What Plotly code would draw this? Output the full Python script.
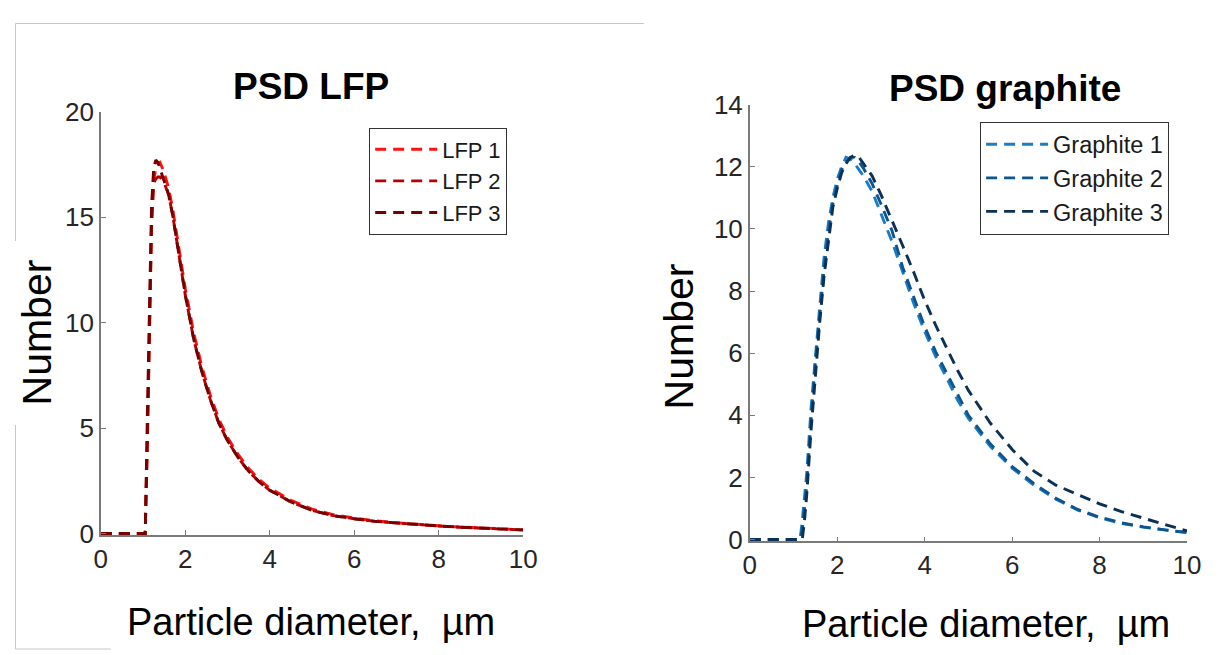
import plotly.graph_objects as go

# ---------------- data ----------------
lfp_x = [0, 0.5, 0.9, 1.0, 1.05, 1.1, 1.15, 1.2, 1.25, 1.3, 1.35, 1.4, 1.5, 1.6, 1.7, 1.8,
         1.9, 2.0, 2.2, 2.4, 2.6, 2.8, 3.0, 3.25, 3.5, 3.75, 4.0, 4.5, 5.0, 5.5, 6.0, 6.5,
         7.0, 7.5, 8.0, 8.5, 9.0, 9.5, 10.0]
lfp1 = [0, 0, 0, 0, 0, 4.5, 10.5, 14.8, 16.7, 17.3, 17.55, 17.6, 17.1, 16.4, 15.4, 14.2,
        12.8, 11.6, 9.5, 7.85, 6.5, 5.4, 4.55, 3.75, 3.08, 2.56, 2.15, 1.58, 1.16, 0.9, 0.73, 0.6,
        0.51, 0.43, 0.37, 0.31, 0.26, 0.22, 0.18]
lfp2 = [0, 0, 0, 0, 0, 4.0, 10.0, 14.5, 16.6, 16.8, 16.9, 16.9, 16.6, 16.1, 15.1, 13.9,
        12.5, 11.3, 9.2, 7.6, 6.3, 5.2, 4.4, 3.6, 2.95, 2.45, 2.05, 1.5, 1.1, 0.85, 0.7, 0.58,
        0.5, 0.42, 0.36, 0.3, 0.25, 0.21, 0.17]
lfp3 = [0, 0, 0, 0, 0, 5.5, 11.5, 15.5, 17.3, 17.7, 17.6, 17.3, 16.7, 16.1, 15.1, 13.9,
        12.5, 11.3, 9.2, 7.6, 6.3, 5.2, 4.4, 3.6, 2.95, 2.45, 2.05, 1.5, 1.1, 0.85, 0.7, 0.58,
        0.5, 0.42, 0.36, 0.3, 0.25, 0.21, 0.17]

gr_x = [0, 0.5, 1.0, 1.15, 1.2, 1.25, 1.3, 1.4, 1.5, 1.6, 1.7, 1.8, 1.9, 2.0, 2.1, 2.2,
        2.3, 2.4, 2.5, 2.6, 2.8, 3.0, 3.25, 3.5, 3.75, 4.0, 4.25, 4.5, 4.75, 5.0, 5.5, 6.0,
        6.5, 7.0, 7.5, 8.0, 8.5, 9.0, 9.5, 10.0]
gr1 = [0, 0, 0, 0, 0.6, 1.3, 2.1, 4.2, 6.0, 7.5, 9.1, 10.2, 11.0, 11.6, 12.0, 12.3,
       12.25, 12.1, 11.9, 11.7, 11.2, 10.5, 9.6, 8.6, 7.6, 6.7, 5.9, 5.2, 4.5, 3.9, 3.0, 2.3,
       1.75, 1.3, 0.95, 0.7, 0.52, 0.4, 0.31, 0.22]
gr2 = [0, 0, 0, 0, 0.3, 0.9, 1.7, 3.8, 5.7, 7.2, 8.7, 9.9, 10.8, 11.4, 11.9, 12.15,
       12.3, 12.3, 12.15, 11.95, 11.45, 10.8, 9.95, 8.75, 7.8, 6.85, 6.05, 5.35, 4.65, 4.0, 3.08, 2.35,
       1.8, 1.33, 0.97, 0.72, 0.54, 0.41, 0.31, 0.23]
gr3 = [0, 0, 0, 0, 0, 0.6, 1.4, 3.5, 5.4, 7.0, 8.5, 9.7, 10.7, 11.3, 11.8, 12.1,
       12.3, 12.37, 12.3, 12.1, 11.7, 11.1, 10.3, 9.45, 8.6, 7.7, 6.9, 6.15, 5.45, 4.8, 3.75, 2.9,
       2.2, 1.75, 1.45, 1.15, 0.9, 0.68, 0.48, 0.28]

lfp_names = ["LFP 1", "LFP 2", "LFP 3"]
gr_names = ["Graphite 1", "Graphite 2", "Graphite 3"]
x_ticks = [0, 2, 4, 6, 8, 10]
lfp_y_ticks = [0, 5, 10, 15, 20]
gr_y_ticks = [0, 2, 4, 6, 8, 10, 12, 14]

lfp_colors = ["#ff1111", "#b80000", "#760000"]
gr_colors = ["#1a7cc4", "#0d5490", "#0b3157"]

W, H = 1231, 655
# the figure appears in the photograph at offset (14, 22) with size 1212 x 630
OX, OY, SW, SH = 14.0, 22.0, 1212.0, 630.0


def fx(X):
    return (X - OX) / SW


def fy(Y):
    return 1 - (Y - OY) / SH


fig = go.Figure()
dash = "11px,7px"
for name, ys, c in zip(lfp_names, [lfp1, lfp2, lfp3], lfp_colors):
    fig.add_trace(go.Scatter(x=lfp_x, y=ys, name=name, mode="lines",
                             line=dict(color=c, width=2.9, dash=dash),
                             xaxis="x", yaxis="y", legend="legend"))
for name, ys, c in zip(gr_names, [gr1, gr2, gr3], gr_colors):
    fig.add_trace(go.Scatter(x=gr_x, y=ys, name=name, mode="lines",
                             line=dict(color=c, width=2.9, dash=dash),
                             xaxis="x2", yaxis="y2", legend="legend2"))

FONT = "Liberation Sans, Arial, sans-serif"
tickfont = dict(family=FONT, size=26, color="#262626")
axcommon = dict(showgrid=False, zeroline=False, showline=True, linecolor="#7a7a7a",
                linewidth=1.5, ticks="inside", ticklen=5, tickcolor="#7a7a7a",
                tickwidth=1, tickfont=tickfont, mirror=False)

fig.update_layout(
    width=W, height=H,
    margin=dict(l=0, r=0, t=0, b=0),
    paper_bgcolor="white", plot_bgcolor="white",
    showlegend=True,
    xaxis=dict(domain=[fx(100), fx(523)], range=[0, 10], tickvals=x_ticks,
               anchor="y", **axcommon),
    yaxis=dict(domain=[fy(536.7), fy(111)], range=[-0.08, 20], tickvals=lfp_y_ticks,
               anchor="x", **axcommon),
    xaxis2=dict(domain=[fx(750), fx(1188)], range=[0, 10], tickvals=x_ticks,
                anchor="y2", **axcommon),
    yaxis2=dict(domain=[fy(542.9), fy(104)], range=[-0.06, 14], tickvals=gr_y_ticks,
                anchor="x2", **axcommon),
    legend=dict(x=fx(507), y=fy(127), xanchor="right", yanchor="top",
                bgcolor="white", bordercolor="#333333", borderwidth=1,
                font=dict(family=FONT, size=22, color="#1a1a1a"), itemwidth=62,
                tracegroupgap=0),
    legend2=dict(x=fx(1170), y=fy(121), xanchor="right", yanchor="top",
                 bgcolor="white", bordercolor="#333333", borderwidth=1,
                 font=dict(family=FONT, size=23.5, color="#1a1a1a"), itemwidth=62,
                 tracegroupgap=0),
)

ann = [
    dict(text="<b>PSD LFP</b>", x=fx(310), y=fy(86), font=dict(family=FONT, size=37, color="black")),
    dict(text="<b>PSD graphite</b>", x=fx(1006), y=fy(88), font=dict(family=FONT, size=37, color="black")),
    dict(text="Particle diameter,  µm", x=fx(310), y=fy(624), font=dict(family=FONT, size=38, color="black")),
    dict(text="Particle diameter,  µm", x=fx(987), y=fy(626), font=dict(family=FONT, size=38, color="black")),
    dict(text="Number", x=fx(36), y=fy(333), textangle=-90, font=dict(family=FONT, size=41, color="black")),
    dict(text="Number", x=fx(679), y=fy(337), textangle=-90, font=dict(family=FONT, size=41, color="black")),
]
for a in ann:
    fig.add_annotation(xref="paper", yref="paper", showarrow=False,
                       xanchor="center", yanchor="middle", **a)

# light grey frame fragments around the figure (clamped to the drawable area)
frame = [
    (14.5, 22.5, 644, 22.5), (14.5, 22.5, 14.5, 241),
    (14.5, 426, 14.5, 651), (14.5, 651, 110, 651),
]
for x0, y0, x1, y1 in frame:
    fig.add_shape(type="line", xref="paper", yref="paper",
                  x0=fx(x0), y0=fy(y0), x1=fx(x1), y1=fy(y1),
                  line=dict(color="#c8c8c8", width=1))

fig.write_html("out.html")
